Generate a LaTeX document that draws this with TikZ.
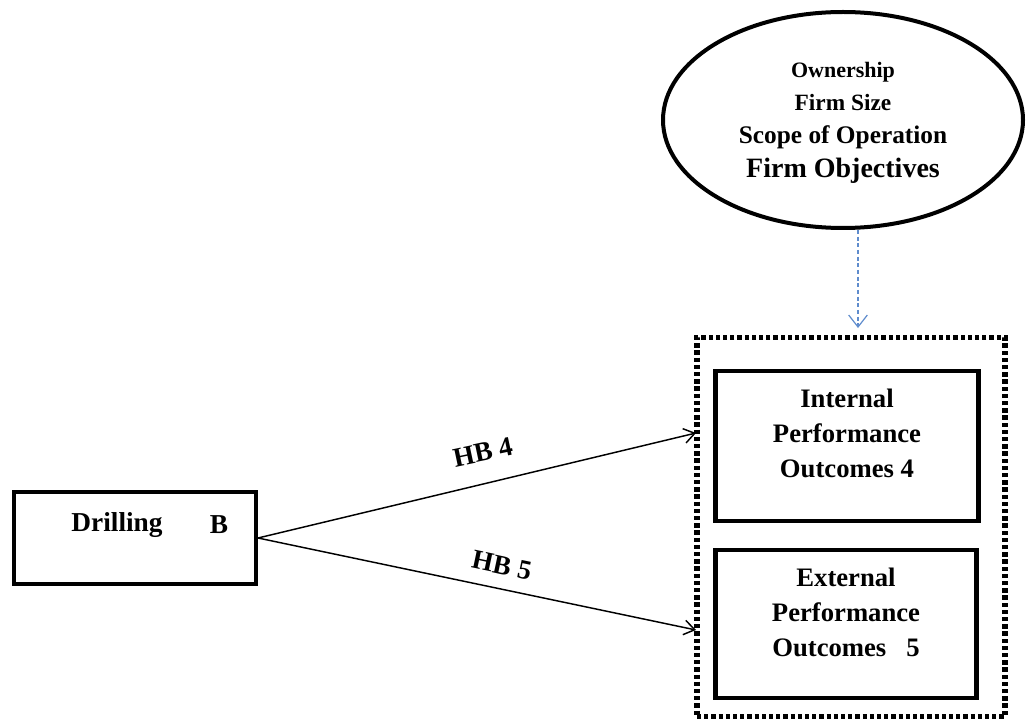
\documentclass[tikz,border=0pt]{standalone}
\usepackage{fontspec}
\setmainfont{Liberation Serif}
\usetikzlibrary{arrows.meta,calc,shapes.geometric}
\definecolor{linkblue}{RGB}{95,140,205}
\begin{document}
\begin{tikzpicture}[x=0.75pt,y=-0.75pt,
  every node/.style={font=\bfseries},
  solidbox/.style={draw,line width=3.6pt,inner sep=0pt},
  groupbox/.style={draw,line width=3.8pt,dash pattern=on 3.2pt off 2.2pt,inner sep=0pt},
  link/.style={line width=1.1pt,-{Straight Barb[length=8pt,width=11pt,line width=1.1pt]}},
  bluelink/.style={linkblue,line width=0.9pt,dash pattern=on 3pt off 2pt,
    -{Straight Barb[length=9pt,width=14pt,line width=0.9pt]}},
  lbl/.style={font=\fontsize{20.5}{22}\bfseries\selectfont},
  boxtext/.style={align=center,font=\fontsize{20}{26.25}\bfseries\selectfont}]
\useasboundingbox (0,0) rectangle (1028,720);

% moderating factors
\node[draw,ellipse,line width=3pt,inner sep=0pt,minimum width=270pt,minimum height=162pt] (ell) at (843,120) {};
\node (own) at (843,72) {\fontsize{16.5}{18}\selectfont Ownership};
\node (size) at (843,103) {\fontsize{17.5}{19}\selectfont Firm Size};
\node (scope) at (843,137) {\fontsize{19}{20}\selectfont Scope of Operation};
\node (obj) at (843,171) {\fontsize{21}{22}\selectfont Firm Objectives};

% performance outcomes group
\node[groupbox,minimum width=231pt,minimum height=284.25pt] (grp) at (851,527) {};
\node[solidbox,minimum width=197.25pt,minimum height=112.5pt] (int) at (847,446) {};
\node[boxtext] (inttext) at (847,433) {Internal\\Performance\\Outcomes 4};
\node[solidbox,minimum width=195.75pt,minimum height=111pt] (ext) at (846,624) {};
\node[boxtext] (exttext) at (846,612) {External\\Performance\\Outcomes\ \ \ 5};

% independent variable
\node[solidbox,line width=3pt,minimum width=181.5pt,minimum height=69pt] (drill) at (135,538) {};
\node[lbl] (drilltext) at (117,525) {Drilling};
\node[lbl] (drillb) at (219,525) {B};

% connectors
\coordinate (in4) at (696,433);
\coordinate (in5) at (696,630);
\coordinate (mod) at (858,328);
\draw[link] (drill.east) -- (in4) node[lbl,pos=0.52,above=13pt,rotate=12] (hb4) {HB 4};
\draw[link] (drill.east) -- (in5) node[lbl,pos=0.55,above=7pt,rotate=-12] (hb5) {HB 5};
\draw[bluelink] (ell.south -| mod) -- (mod);
\end{tikzpicture}
\end{document}
